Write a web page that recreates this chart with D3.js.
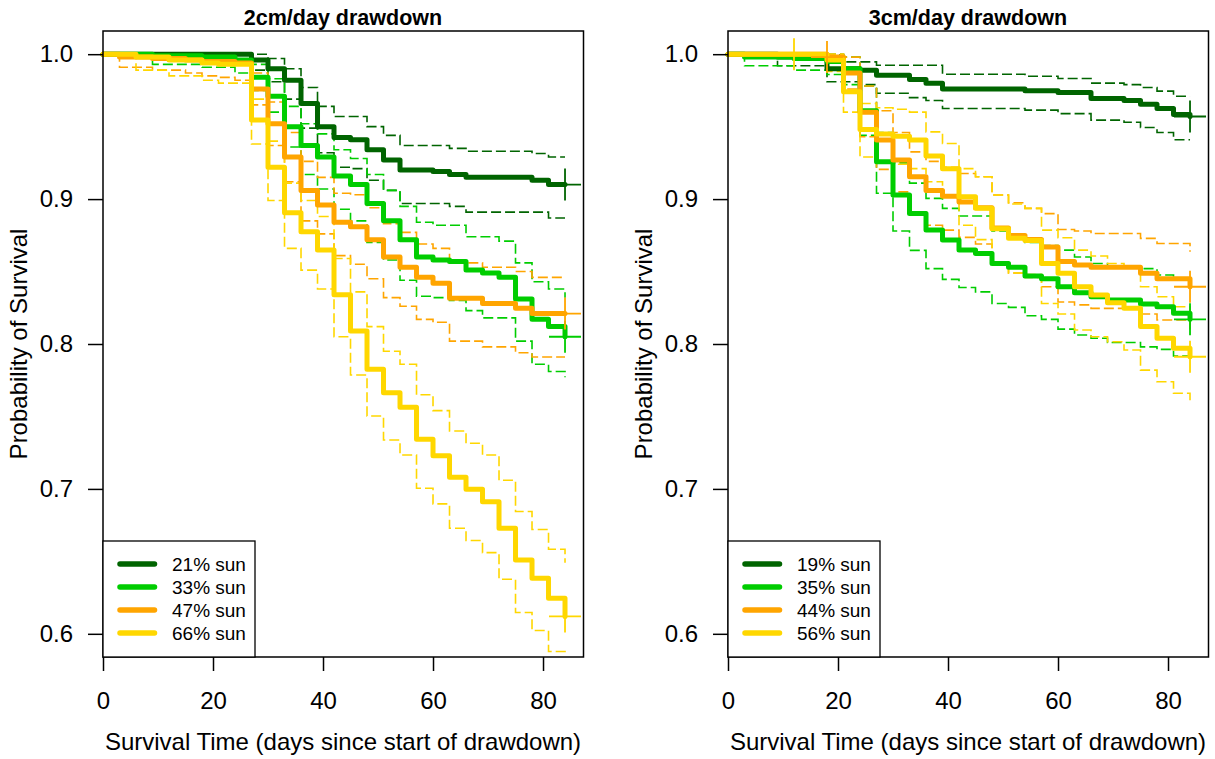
<!DOCTYPE html>
<html>
<head>
<meta charset="utf-8">
<script src="https://cdn.jsdelivr.net/npm/d3@7"></script>
<style>
	body { margin: 0; background: #ffffff; }
	text { font-family: "Liberation Sans", Arial, sans-serif; fill: #000000; }
</style>
</head>
<body>
<script>
// survival estimates read at each 3-day check
var days = [0, 3, 6, 9, 12, 15, 18, 21, 24, 27, 30, 33, 36, 39, 42, 45, 48, 51, 54, 57, 60, 63, 66, 69, 72, 75, 78, 81, 84];
var xTicks = [0, 20, 40, 60, 80];
var yTicks = [0.6, 0.7, 0.8, 0.9, 1.0];
var colors = ["#006400", "#00CD00", "#FFA500", "#FFD700"];

// 2cm/day drawdown
var labels2cm = ["21% sun", "33% sun", "47% sun", "66% sun"];
var est2cm21 = [1, 1, 1, 1, 1, 1, 1, 1, 1, 0.996, 0.990, 0.982, 0.966, 0.950, 0.9425, 0.941, 0.934, 0.927, 0.920, 0.920, 0.919, 0.917, 0.915, 0.915, 0.915, 0.915, 0.913, 0.910, 0.910];
var lo2cm21 = [1, 1, 1, 1, 1, 1, 1, 1, 1, 0.989, 0.981, 0.969, 0.949, 0.932, 0.922, 0.921, 0.913, 0.906, 0.897, 0.897, 0.897, 0.895, 0.891, 0.891, 0.891, 0.891, 0.891, 0.887, 0.887];
var hi2cm21 = [1, 1, 1, 1, 1, 1, 1, 1, 1, 1, 0.997, 0.990, 0.977, 0.964, 0.957, 0.957, 0.950, 0.944, 0.937, 0.937, 0.937, 0.935, 0.933, 0.933, 0.933, 0.933, 0.9315, 0.929, 0.929];
var est2cm33 = [1, 1, 1, 0.999, 0.999, 0.999, 0.998, 0.998, 0.996, 0.984, 0.971, 0.950, 0.937, 0.929, 0.916, 0.910, 0.897, 0.885, 0.872, 0.860, 0.858, 0.857, 0.851, 0.849, 0.846, 0.831, 0.817, 0.812, 0.805];
var lo2cm33 = [1, 1, 1, 0.993, 0.993, 0.993, 0.991, 0.991, 0.987, 0.975, 0.960, 0.936, 0.917, 0.907, 0.893, 0.885, 0.870, 0.858, 0.844, 0.833, 0.832, 0.830, 0.823, 0.818, 0.818, 0.802, 0.786, 0.781, 0.777];
var hi2cm33 = [1, 1, 1, 1, 1, 1, 1, 1, 1, 0.993, 0.983, 0.964, 0.952, 0.945, 0.934, 0.928, 0.917, 0.906, 0.895, 0.884, 0.882, 0.882, 0.874, 0.874, 0.871, 0.856, 0.843, 0.838, 0.832];
var est2cm47 = [1, 0.998, 0.998, 0.997, 0.997, 0.996, 0.995, 0.995, 0.994, 0.976, 0.952, 0.929, 0.906, 0.896, 0.884, 0.881, 0.872, 0.860, 0.853, 0.846, 0.842, 0.8315, 0.8315, 0.828, 0.828, 0.8246, 0.821, 0.821, 0.821];
var lo2cm47 = [1, 0.991, 0.991, 0.989, 0.989, 0.987, 0.985, 0.984, 0.982, 0.965, 0.937, 0.912, 0.885, 0.876, 0.861, 0.855, 0.845, 0.832, 0.826, 0.817, 0.815, 0.802, 0.802, 0.798, 0.798, 0.794, 0.791, 0.791, 0.791];
var hi2cm47 = [1, 1, 1, 1, 1, 1, 1, 1, 1, 0.987, 0.967, 0.946, 0.926, 0.915, 0.904, 0.903, 0.894, 0.883, 0.877, 0.869, 0.866, 0.856, 0.856, 0.853, 0.853, 0.850, 0.846, 0.846, 0.846];
var est2cm66 = [1, 1, 0.998, 0.998, 0.996, 0.996, 0.994, 0.993, 0.993, 0.9545, 0.922, 0.8906, 0.8774, 0.8648, 0.834, 0.809, 0.7825, 0.7664, 0.7563, 0.7343, 0.7228, 0.708, 0.6998, 0.6912, 0.6729, 0.651, 0.6384, 0.6246, 0.612];
var lo2cm66 = [1, 1, 0.989, 0.989, 0.985, 0.985, 0.982, 0.980, 0.980, 0.938, 0.899, 0.866, 0.851, 0.838, 0.805, 0.7786, 0.7503, 0.7338, 0.7234, 0.7005, 0.6897, 0.6729, 0.6644, 0.656, 0.6377, 0.6147, 0.6023, 0.5878, 0.5855];
var hi2cm66 = [1, 1, 1, 1, 1, 1, 1, 1, 1, 0.969, 0.940, 0.911, 0.899, 0.888, 0.859, 0.836, 0.812, 0.795, 0.786, 0.765, 0.754, 0.740, 0.7315, 0.7234, 0.706, 0.6844, 0.672, 0.6584, 0.649];
var censor2cm = [[84], [84], [84], [84]];

// 3cm/day drawdown
var labels3cm = ["19% sun", "35% sun", "44% sun", "56% sun"];
var est3cm19 = [1, 1, 1, 0.998, 0.998, 0.998, 0.990, 0.990, 0.989, 0.9855, 0.9855, 0.9825, 0.980, 0.976, 0.976, 0.976, 0.976, 0.976, 0.9747, 0.9747, 0.9736, 0.9736, 0.9694, 0.9694, 0.968, 0.9655, 0.9625, 0.9584, 0.957];
var lo3cm19 = [1, 1, 1, 0.992, 0.992, 0.992, 0.981, 0.981, 0.979, 0.973, 0.973, 0.970, 0.968, 0.9625, 0.9625, 0.9625, 0.9625, 0.9625, 0.9614, 0.9614, 0.959, 0.959, 0.9545, 0.9545, 0.953, 0.9494, 0.946, 0.941, 0.941];
var hi3cm19 = [1, 1, 1, 1, 1, 1, 0.9995, 0.9947, 0.9947, 0.9924, 0.9924, 0.9924, 0.9924, 0.9862, 0.9862, 0.9862, 0.9862, 0.9862, 0.9848, 0.9848, 0.9832, 0.9832, 0.980, 0.980, 0.979, 0.977, 0.9745, 0.971, 0.971];
var est3cm35 = [1, 0.998, 0.998, 0.998, 0.997, 0.997, 0.995, 0.990, 0.961, 0.9257, 0.9028, 0.890, 0.8786, 0.8717, 0.8648, 0.8625, 0.8556, 0.853, 0.8469, 0.845, 0.8395, 0.8354, 0.8326, 0.8303, 0.8303, 0.8276, 0.8257, 0.8212, 0.817];
var lo3cm35 = [1, 0.992, 0.992, 0.992, 0.989, 0.989, 0.986, 0.979, 0.944, 0.904, 0.878, 0.8646, 0.852, 0.8446, 0.839, 0.836, 0.828, 0.8253, 0.8195, 0.817, 0.8103, 0.8062, 0.804, 0.801, 0.801, 0.798, 0.7963, 0.7917, 0.788];
var hi3cm35 = [1, 1, 1, 1, 1, 1, 1, 0.998, 0.978, 0.946, 0.925, 0.911, 0.9005, 0.8936, 0.8883, 0.8883, 0.878, 0.875, 0.870, 0.868, 0.8648, 0.860, 0.8556, 0.853, 0.853, 0.852, 0.8476, 0.844, 0.842];
var est3cm44 = [1, 1, 1, 1, 1, 1, 0.998, 0.987, 0.960, 0.9407, 0.927, 0.9154, 0.906, 0.902, 0.898, 0.894, 0.880, 0.8748, 0.8722, 0.867, 0.857, 0.8545, 0.853, 0.853, 0.853, 0.8488, 0.845, 0.845, 0.8395];
var lo3cm44 = [1, 1, 1, 1, 1, 1, 0.994, 0.976, 0.943, 0.9205, 0.905, 0.8913, 0.882, 0.8786, 0.8736, 0.869, 0.856, 0.849, 0.846, 0.8395, 0.829, 0.827, 0.8246, 0.8246, 0.8246, 0.8207, 0.8166, 0.8166, 0.810];
var hi3cm44 = [1, 1, 1, 1, 1, 1, 1, 0.998, 0.978, 0.961, 0.946, 0.9326, 0.926, 0.922, 0.9177, 0.9154, 0.9028, 0.8975, 0.8936, 0.890, 0.879, 0.878, 0.8763, 0.8763, 0.8763, 0.8729, 0.8694, 0.8694, 0.8637];
var est3cm56 = [1, 1, 1, 1, 1, 1, 0.996, 0.974, 0.948, 0.945, 0.9434, 0.9407, 0.9297, 0.921, 0.9016, 0.8936, 0.8795, 0.873, 0.8715, 0.8556, 0.8488, 0.8395, 0.8338, 0.8285, 0.8246, 0.812, 0.804, 0.797, 0.7912];
var lo3cm56 = [1, 1, 1, 1, 1, 1, 0.988, 0.960, 0.929, 0.926, 0.924, 0.921, 0.912, 0.903, 0.882, 0.872, 0.856, 0.849, 0.848, 0.828, 0.8207, 0.8097, 0.805, 0.8016, 0.7959, 0.782, 0.774, 0.766, 0.760];
var hi3cm56 = [1, 1, 1, 1, 1, 1, 1, 0.987, 0.966, 0.963, 0.962, 0.960, 0.9464, 0.9384, 0.921, 0.9154, 0.9028, 0.8966, 0.8936, 0.8786, 0.8733, 0.8648, 0.8607, 0.8556, 0.853, 0.8395, 0.8326, 0.8257, 0.821];
var censor3cm = [[84], [84], [18, 84], [12, 84]];

var svg = d3.select("body")
	.append("svg")
	.attr("width", 1215)
	.attr("height", 759);

function drawPanel (left, title, labels, est, lo, hi, censor) {
	var g = svg.append("g");
	var x = d3.scaleLinear().domain([0, 87.36]).range([left, left + 480.5]);
	var y = d3.scaleLinear().domain([0.584, 1.016]).range([657, 31]);
	var line = d3.line()
		.curve(d3.curveStepAfter)
		.x(function (d, i) { return x(days[i]); })
		.y(function (d) { return y(d); });

	// confidence limits, dashed
	d3.range(4).forEach(function (k) {
		[lo[k], hi[k]].forEach(function (s) {
			g.append("path")
				.datum(s)
				.attr("d", line)
				.attr("fill", "none")
				.attr("stroke", colors[k])
				.attr("stroke-width", 1.6)
				.attr("stroke-dasharray", "10,4");
		});
	});
	// survival curves
	d3.range(4).forEach(function (k) {
		g.append("path")
			.datum(est[k])
			.attr("d", line)
			.attr("fill", "none")
			.attr("stroke", colors[k])
			.attr("stroke-width", 5)
			.attr("stroke-linejoin", "round")
			.attr("stroke-linecap", "round");
	});
	// censor marks
	d3.range(4).forEach(function (k) {
		censor[k].forEach(function (t) {
			var cx = x(t), cy = y(est[k][days.indexOf(t)]);
			g.append("path")
				.attr("d", "M" + (cx - 16) + "," + cy + "H" + (cx + 16) + "M" + cx + "," + (cy - 16) + "V" + (cy + 16))
				.attr("stroke", colors[k])
				.attr("stroke-width", 1.8);
		});
	});

	// box
	g.append("rect")
		.attr("x", x.range()[0])
		.attr("y", 31)
		.attr("width", 480.5)
		.attr("height", 626)
		.attr("fill", "none")
		.attr("stroke", "#000")
		.attr("stroke-width", 1.5);

	var xAxis = g.append("g")
		.attr("transform", "translate(0,657)")
		.call(d3.axisBottom(x).tickValues(xTicks).tickSize(14).tickPadding(21));
	var yAxis = g.append("g")
		.attr("transform", "translate(" + left + ",0)")
		.call(d3.axisLeft(y).tickValues(yTicks).tickSize(15).tickPadding(15).tickFormat(d3.format(".1f")));
	[xAxis, yAxis].forEach(function (a) {
		a.select(".domain").remove();
		a.selectAll("line").attr("stroke-width", 1.5);
		a.selectAll("text")
			.attr("font-size", 24)
			.style("font-family", "'Liberation Sans', Arial, sans-serif");
	});

	var cx = left + 240;
	g.append("text")
		.attr("x", cx)
		.attr("y", 25)
		.attr("text-anchor", "middle")
		.attr("font-size", 21.5)
		.attr("font-weight", "bold")
		.text(title);
	g.append("text")
		.attr("x", cx)
		.attr("y", 750)
		.attr("text-anchor", "middle")
		.attr("font-size", 24)
		.text("Survival Time (days since start of drawdown)");
	g.append("text")
		.attr("transform", "translate(" + (left - 76.5) + ",344) rotate(-90)")
		.attr("text-anchor", "middle")
		.attr("font-size", 24)
		.text("Probability of Survival");

	// legend
	g.append("rect")
		.attr("x", left)
		.attr("y", 541)
		.attr("width", 152)
		.attr("height", 116)
		.attr("fill", "#fff")
		.attr("stroke", "#000")
		.attr("stroke-width", 1.3);
	labels.forEach(function (lab, k) {
		var ly = 564 + k * 23;
		g.append("line")
			.attr("x1", left + 17)
			.attr("x2", left + 51.5)
			.attr("y1", ly)
			.attr("y2", ly)
			.attr("stroke", colors[k])
			.attr("stroke-width", 5.5)
			.attr("stroke-linecap", "round");
		g.append("text")
			.attr("x", left + 69)
			.attr("y", ly)
			.attr("dy", "0.35em")
			.attr("font-size", 19)
			.text(lab);
	});
}

drawPanel(103, "2cm/day drawdown", labels2cm,
	[est2cm21, est2cm33, est2cm47, est2cm66],
	[lo2cm21, lo2cm33, lo2cm47, lo2cm66],
	[hi2cm21, hi2cm33, hi2cm47, hi2cm66],
	censor2cm);
drawPanel(728, "3cm/day drawdown", labels3cm,
	[est3cm19, est3cm35, est3cm44, est3cm56],
	[lo3cm19, lo3cm35, lo3cm44, lo3cm56],
	[hi3cm19, hi3cm35, hi3cm44, hi3cm56],
	censor3cm);
</script>
</body>
</html>
